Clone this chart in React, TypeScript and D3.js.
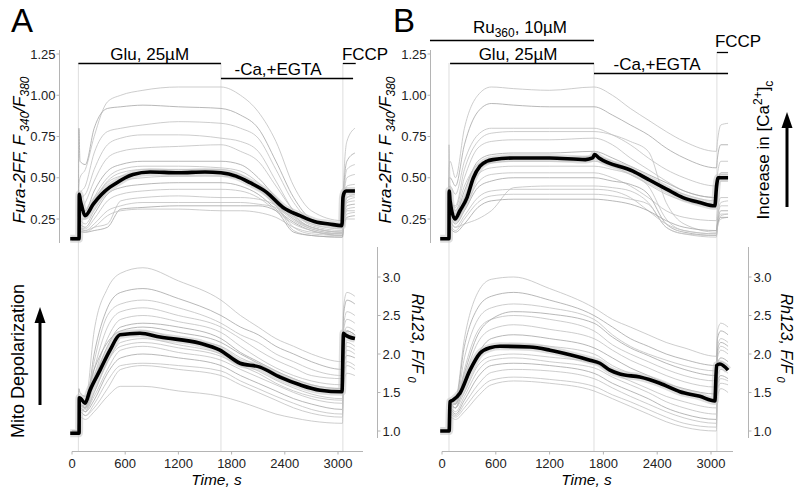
import React from "react";
import * as d3 from "d3";

const TIME_TICKS = [0, 600, 1200, 1800, 2400, 3000];
const FURA_TICKS = [0.25, 0.5, 0.75, 1.0, 1.25];
const RH_TICKS = [1.0, 1.5, 2.0, 2.5, 3.0];

// application times (s)
const EVENTS_A = [72, 1680, 3055];
const EVENTS_B = [78, 1695, 3066];

// treatment bars (label, start s, end s)
const BAR_LABELS_A = ["Glu, 25µM", "-Ca,+EGTA", "FCCP"];
const BAR_START_A = [72, 1680, 3055];
const BAR_END_A = [1680, 3170, 3200];
const BAR_LABELS_B = ["Ru360, 10µM", "Glu, 25µM", "-Ca,+EGTA", "FCCP"];
const BAR_START_B = [-134, 90, 1695, 3066];
const BAR_END_B = [1695, 1695, 3190, 3190];

// ---------- Panel A, Fura-2FF ----------
const GRID_A = [0, 70, 78, 90, 150, 250, 400, 550, 800, 1200, 1680, 1900, 2100, 2300, 2500, 2700, 3050, 3062, 3100, 3190];
const FURA_A_TRACES = [
  [0.14, 0.14, 0.45, 0.5, 0.55, 0.75, 0.96, 1.0, 1.03, 1.05, 1.05, 1.0, 0.9, 0.72, 0.45, 0.3, 0.24, 0.45, 0.72, 0.8],
  [0.13, 0.13, 0.8, 0.6, 0.58, 0.8, 0.92, 0.93, 0.94, 0.93, 0.92, 0.88, 0.8, 0.6, 0.38, 0.25, 0.2, 0.4, 0.6, 0.65],
  [0.13, 0.13, 0.35, 0.4, 0.45, 0.65, 0.78, 0.8, 0.82, 0.84, 0.83, 0.8, 0.74, 0.55, 0.35, 0.24, 0.2, 0.35, 0.55, 0.58],
  [0.14, 0.14, 0.4, 0.38, 0.4, 0.55, 0.7, 0.74, 0.76, 0.76, 0.74, 0.72, 0.66, 0.48, 0.3, 0.22, 0.19, 0.33, 0.5, 0.52],
  [0.12, 0.12, 0.3, 0.3, 0.35, 0.48, 0.62, 0.66, 0.68, 0.69, 0.7, 0.66, 0.6, 0.45, 0.3, 0.21, 0.18, 0.3, 0.45, 0.46],
  [0.13, 0.13, 0.35, 0.32, 0.3, 0.42, 0.54, 0.58, 0.6, 0.6, 0.6, 0.58, 0.5, 0.38, 0.27, 0.2, 0.17, 0.3, 0.42, 0.43],
  [0.13, 0.13, 0.3, 0.28, 0.27, 0.38, 0.5, 0.55, 0.57, 0.57, 0.56, 0.54, 0.47, 0.36, 0.26, 0.2, 0.17, 0.28, 0.38, 0.4],
  [0.12, 0.12, 0.28, 0.25, 0.25, 0.36, 0.48, 0.53, 0.55, 0.55, 0.55, 0.52, 0.45, 0.34, 0.25, 0.19, 0.16, 0.27, 0.36, 0.38],
  [0.13, 0.13, 0.3, 0.25, 0.22, 0.3, 0.42, 0.48, 0.5, 0.51, 0.51, 0.49, 0.43, 0.33, 0.24, 0.19, 0.16, 0.28, 0.35, 0.36],
  [0.13, 0.13, 0.25, 0.22, 0.2, 0.28, 0.4, 0.44, 0.46, 0.47, 0.47, 0.45, 0.4, 0.31, 0.23, 0.18, 0.15, 0.25, 0.33, 0.34],
  [0.13, 0.13, 0.22, 0.2, 0.19, 0.25, 0.36, 0.4, 0.42, 0.43, 0.43, 0.42, 0.38, 0.3, 0.22, 0.18, 0.15, 0.24, 0.31, 0.32],
  [0.13, 0.13, 0.22, 0.2, 0.18, 0.2, 0.22, 0.36, 0.38, 0.39, 0.38, 0.38, 0.37, 0.33, 0.2, 0.16, 0.15, 0.22, 0.3, 0.3],
  [0.13, 0.13, 0.2, 0.19, 0.18, 0.22, 0.3, 0.33, 0.35, 0.35, 0.35, 0.35, 0.34, 0.32, 0.18, 0.15, 0.14, 0.2, 0.28, 0.29],
  [0.12, 0.12, 0.2, 0.18, 0.17, 0.18, 0.2, 0.31, 0.32, 0.33, 0.33, 0.33, 0.33, 0.3, 0.17, 0.15, 0.14, 0.2, 0.26, 0.27],
  [0.13, 0.13, 0.18, 0.17, 0.17, 0.2, 0.27, 0.3, 0.31, 0.31, 0.3, 0.3, 0.29, 0.26, 0.2, 0.17, 0.16, 0.2, 0.25, 0.25],
  [0.13, 0.13, 0.34, 0.3, 0.27, 0.36, 0.47, 0.51, 0.53, 0.54, 0.54, 0.51, 0.44, 0.34, 0.25, 0.2, 0.17, 0.28, 0.38, 0.39],
];
const MEAN_FURA_A_T = [-20, 80, 82, 95, 109, 147, 240, 335, 420, 507, 600, 688, 880, 1200, 1500, 1680, 1850, 2007, 2199, 2380, 2571, 2763, 2900, 3045, 3056, 3070, 3090, 3191];
const MEAN_FURA_A = [0.13, 0.13, 0.40, 0.36, 0.33, 0.27, 0.34, 0.40, 0.44, 0.47, 0.50, 0.52, 0.535, 0.53, 0.535, 0.53, 0.51, 0.47, 0.41, 0.32, 0.27, 0.23, 0.22, 0.21, 0.38, 0.41, 0.42, 0.42];

// ---------- Panel A, Rh123 ----------
const RH_A_TRACES = [
  [1.0, 1.0, 1.25, 1.3, 1.35, 2.3, 2.85, 3.05, 3.12, 2.95, 2.7, 2.5, 2.35, 2.2, 2.1, 2.0, 1.9, 2.6, 2.8, 2.75],
  [1.0, 1.0, 1.3, 1.35, 1.3, 2.0, 2.6, 2.8, 2.85, 2.72, 2.5, 2.35, 2.25, 2.1, 2.0, 1.9, 1.8, 2.5, 2.7, 2.65],
  [1.0, 1.0, 1.2, 1.25, 1.3, 1.9, 2.5, 2.65, 2.7, 2.6, 2.4, 2.25, 2.15, 2.0, 1.9, 1.8, 1.72, 2.35, 2.55, 2.5],
  [1.0, 1.0, 1.3, 1.35, 1.3, 1.8, 2.35, 2.55, 2.6, 2.5, 2.35, 2.2, 2.05, 1.92, 1.82, 1.72, 1.68, 2.3, 2.45, 2.4],
  [1.0, 1.0, 1.25, 1.3, 1.25, 1.7, 2.2, 2.45, 2.5, 2.42, 2.28, 2.1, 1.95, 1.82, 1.72, 1.65, 1.6, 2.2, 2.35, 2.3],
  [1.0, 1.0, 1.3, 1.35, 1.3, 1.65, 2.1, 2.35, 2.4, 2.35, 2.2, 2.02, 1.9, 1.78, 1.68, 1.6, 1.55, 2.1, 2.3, 2.25],
  [0.98, 0.98, 1.35, 1.4, 1.35, 1.6, 2.0, 2.25, 2.3, 2.2, 2.1, 1.95, 1.85, 1.72, 1.62, 1.55, 1.5, 2.05, 2.25, 2.2],
  [1.0, 1.0, 1.3, 1.32, 1.3, 1.5, 1.9, 2.15, 2.2, 2.12, 2.0, 1.88, 1.78, 1.66, 1.56, 1.48, 1.42, 1.95, 2.15, 2.1],
  [1.0, 1.0, 1.3, 1.35, 1.28, 1.45, 1.8, 2.05, 2.1, 2.02, 1.92, 1.8, 1.7, 1.6, 1.5, 1.42, 1.36, 1.9, 2.05, 2.0],
  [1.0, 1.0, 1.25, 1.3, 1.25, 1.4, 1.75, 1.95, 2.0, 1.95, 1.85, 1.72, 1.62, 1.52, 1.42, 1.35, 1.28, 1.85, 1.98, 1.95],
  [1.0, 1.0, 1.2, 1.25, 1.2, 1.35, 1.65, 1.85, 1.88, 1.85, 1.78, 1.65, 1.55, 1.45, 1.36, 1.28, 1.22, 1.75, 1.9, 1.85],
  [1.0, 1.0, 1.22, 1.25, 1.2, 1.3, 1.55, 1.8, 1.85, 1.8, 1.72, 1.6, 1.5, 1.4, 1.3, 1.23, 1.18, 1.7, 1.85, 1.8],
  [1.0, 1.0, 1.15, 1.18, 1.15, 1.25, 1.45, 1.58, 1.58, 1.52, 1.45, 1.38, 1.3, 1.22, 1.17, 1.13, 1.1, 1.6, 1.75, 1.72],
  [1.0, 1.0, 1.55, 1.5, 1.45, 1.8, 2.15, 2.3, 2.35, 2.28, 2.15, 2.0, 1.88, 1.75, 1.65, 1.57, 1.52, 2.1, 2.3, 2.25],
  [1.0, 1.0, 1.3, 1.3, 1.25, 1.5, 1.9, 2.1, 2.15, 2.08, 1.97, 1.85, 1.75, 1.62, 1.52, 1.45, 1.4, 1.98, 2.1, 2.05],
];
const MEAN_RH_A_T = [-20, 80, 82, 100, 147, 203, 316, 429, 541, 767, 992, 1444, 1669, 1895, 2120, 2346, 2571, 2797, 3045, 3062, 3079, 3191];
const MEAN_RH_A = [0.97, 0.97, 1.43, 1.42, 1.36, 1.53, 1.79, 2.05, 2.25, 2.27, 2.22, 2.14, 2.05, 1.88, 1.83, 1.70, 1.60, 1.53, 1.51, 2.27, 2.25, 2.2];

// ---------- Panel B, Fura-2FF ----------
const GRID_B = [0, 70, 78, 90, 150, 250, 400, 550, 800, 1200, 1695, 1900, 2100, 2300, 2500, 2700, 3060, 3072, 3110, 3190];
const FURA_B_TRACES = [
  [0.13, 0.13, 0.55, 0.6, 0.5, 0.8, 1.0, 1.05, 1.04, 1.03, 1.05, 1.0, 0.92, 0.85, 0.78, 0.72, 0.66, 0.72, 0.82, 0.83],
  [0.13, 0.13, 0.5, 0.5, 0.45, 0.7, 0.9, 0.95, 0.94, 0.93, 0.93, 0.88, 0.82, 0.76, 0.68, 0.62, 0.56, 0.62, 0.7, 0.7],
  [0.13, 0.13, 0.45, 0.45, 0.4, 0.6, 0.76, 0.8, 0.8, 0.8, 0.8, 0.76, 0.7, 0.62, 0.55, 0.5, 0.45, 0.52, 0.6, 0.6],
  [0.13, 0.13, 0.4, 0.35, 0.33, 0.55, 0.72, 0.77, 0.78, 0.78, 0.78, 0.76, 0.72, 0.66, 0.35, 0.22, 0.17, 0.25, 0.35, 0.36],
  [0.13, 0.13, 0.42, 0.38, 0.32, 0.5, 0.68, 0.72, 0.73, 0.73, 0.74, 0.7, 0.62, 0.55, 0.48, 0.42, 0.38, 0.45, 0.52, 0.52],
  [0.13, 0.13, 0.45, 0.38, 0.28, 0.42, 0.6, 0.64, 0.65, 0.65, 0.66, 0.62, 0.57, 0.52, 0.47, 0.42, 0.38, 0.45, 0.53, 0.53],
  [0.13, 0.13, 0.38, 0.33, 0.26, 0.38, 0.55, 0.59, 0.6, 0.6, 0.6, 0.57, 0.52, 0.46, 0.4, 0.36, 0.33, 0.42, 0.48, 0.48],
  [0.13, 0.13, 0.4, 0.32, 0.25, 0.36, 0.52, 0.56, 0.57, 0.57, 0.57, 0.55, 0.52, 0.45, 0.25, 0.18, 0.16, 0.25, 0.33, 0.33],
  [0.13, 0.13, 0.35, 0.3, 0.24, 0.32, 0.47, 0.52, 0.53, 0.53, 0.53, 0.5, 0.45, 0.38, 0.3, 0.26, 0.24, 0.3, 0.38, 0.38],
  [0.13, 0.13, 0.32, 0.28, 0.22, 0.3, 0.44, 0.48, 0.5, 0.5, 0.5, 0.48, 0.46, 0.4, 0.22, 0.17, 0.15, 0.22, 0.3, 0.3],
  [0.13, 0.13, 0.3, 0.25, 0.2, 0.22, 0.25, 0.3, 0.44, 0.45, 0.45, 0.44, 0.42, 0.35, 0.2, 0.16, 0.15, 0.2, 0.27, 0.28],
  [0.13, 0.13, 0.28, 0.24, 0.2, 0.27, 0.38, 0.42, 0.43, 0.43, 0.43, 0.42, 0.38, 0.3, 0.22, 0.18, 0.16, 0.22, 0.28, 0.28],
  [0.13, 0.13, 0.25, 0.22, 0.18, 0.25, 0.35, 0.39, 0.4, 0.4, 0.4, 0.39, 0.37, 0.34, 0.2, 0.16, 0.14, 0.2, 0.25, 0.26],
  [0.13, 0.13, 0.22, 0.2, 0.17, 0.22, 0.32, 0.36, 0.37, 0.37, 0.37, 0.36, 0.34, 0.3, 0.24, 0.2, 0.18, 0.22, 0.26, 0.26],
  [0.13, 0.13, 0.7, 0.45, 0.3, 0.45, 0.58, 0.61, 0.62, 0.62, 0.63, 0.6, 0.55, 0.5, 0.44, 0.4, 0.36, 0.44, 0.5, 0.5],
];
const MEAN_FURA_B_T = [-20, 78, 80, 90, 145, 200, 279, 350, 424, 500, 569, 800, 1200, 1600, 1680, 1700, 1750, 2129, 2300, 2508, 2687, 2876, 3043, 3062, 3080, 3100, 3190];
const MEAN_FURA_B = [0.13, 0.13, 0.42, 0.36, 0.25, 0.3, 0.38, 0.5, 0.57, 0.6, 0.61, 0.62, 0.62, 0.61, 0.62, 0.64, 0.62, 0.54, 0.49, 0.43, 0.38, 0.35, 0.33, 0.45, 0.5, 0.5, 0.5];

// ---------- Panel B, Rh123 ----------
const RH_B_TRACES = [
  [1.0, 1.0, 1.3, 1.35, 1.4, 2.2, 2.8, 2.97, 3.0, 2.85, 2.6, 2.45, 2.35, 2.25, 2.15, 2.08, 1.97, 2.3, 2.4, 2.35],
  [1.0, 1.0, 1.35, 1.4, 1.4, 2.1, 2.6, 2.75, 2.8, 2.7, 2.5, 2.35, 2.2, 2.1, 2.0, 1.93, 1.85, 2.2, 2.3, 2.25],
  [1.0, 1.0, 1.3, 1.35, 1.35, 1.95, 2.45, 2.6, 2.65, 2.6, 2.45, 2.25, 2.1, 2.0, 1.92, 1.85, 1.78, 2.1, 2.2, 2.15],
  [1.0, 1.0, 1.3, 1.35, 1.3, 1.8, 2.3, 2.45, 2.5, 2.45, 2.3, 2.12, 2.0, 1.9, 1.8, 1.72, 1.65, 2.0, 2.1, 2.05],
  [1.0, 1.0, 1.35, 1.4, 1.35, 1.7, 2.15, 2.32, 2.38, 2.32, 2.2, 2.05, 1.92, 1.82, 1.72, 1.64, 1.57, 1.95, 2.05, 2.0],
  [1.0, 1.0, 1.3, 1.35, 1.3, 1.6, 2.0, 2.2, 2.25, 2.2, 2.08, 1.95, 1.82, 1.72, 1.62, 1.55, 1.48, 1.88, 1.95, 1.9],
  [1.0, 1.0, 1.38, 1.4, 1.38, 1.6, 1.95, 2.1, 2.13, 2.1, 2.0, 1.85, 1.75, 1.68, 1.58, 1.5, 1.42, 1.85, 1.9, 1.85],
  [1.0, 1.0, 1.3, 1.32, 1.3, 1.5, 1.85, 1.97, 2.0, 1.96, 1.88, 1.75, 1.65, 1.55, 1.45, 1.38, 1.3, 1.78, 1.85, 1.8],
  [1.0, 1.0, 1.25, 1.3, 1.25, 1.45, 1.78, 1.92, 1.95, 1.9, 1.82, 1.7, 1.6, 1.5, 1.38, 1.3, 1.22, 1.72, 1.8, 1.75],
  [1.0, 1.0, 1.25, 1.28, 1.22, 1.4, 1.7, 1.85, 1.88, 1.85, 1.75, 1.62, 1.52, 1.42, 1.3, 1.22, 1.15, 1.65, 1.72, 1.68],
  [1.0, 1.0, 1.2, 1.25, 1.2, 1.35, 1.6, 1.76, 1.8, 1.78, 1.68, 1.56, 1.45, 1.35, 1.25, 1.17, 1.1, 1.6, 1.68, 1.65],
  [1.0, 1.0, 1.2, 1.22, 1.18, 1.3, 1.52, 1.66, 1.7, 1.67, 1.58, 1.47, 1.38, 1.28, 1.18, 1.1, 1.05, 1.55, 1.62, 1.6],
  [1.0, 1.0, 1.15, 1.18, 1.15, 1.25, 1.45, 1.6, 1.65, 1.62, 1.52, 1.42, 1.32, 1.22, 1.12, 1.05, 1.0, 1.45, 1.55, 1.5],
  [1.0, 1.0, 1.3, 1.35, 1.35, 1.75, 2.25, 2.45, 2.55, 2.52, 2.4, 2.22, 2.08, 1.98, 1.88, 1.8, 1.72, 2.05, 2.15, 2.1],
];
const MEAN_RH_B_T = [-20, 80, 89, 120, 200, 312, 424, 535, 647, 981, 1204, 1427, 1650, 1761, 1873, 1984, 2207, 2430, 2653, 2876, 3043, 3062, 3099, 3190];
const MEAN_RH_B = [1.0, 1.0, 1.38, 1.4, 1.49, 1.79, 2.01, 2.08, 2.10, 2.09, 2.05, 1.99, 1.92, 1.88, 1.79, 1.74, 1.70, 1.62, 1.51, 1.45, 1.39, 1.85, 1.87, 1.79];

const FONT = "'Liberation Sans', Arial, Helvetica, sans-serif";
const AXIS = "#b4b4b4";

type Scale = d3.ScaleLinear<number, number>;

function traceLine(x: Scale, y: Scale, times: number[]) {
  return d3
    .line<number>()
    .x((_, i) => x(times[i]))
    .y((v) => y(v))
    .curve(d3.curveMonotoneX);
}

function Traces({ x, y, grid, traces, meanT, mean }: { x: Scale; y: Scale; grid: number[]; traces: number[][]; meanT: number[]; mean: number[] }) {
  const g = traceLine(x, y, grid);
  const m = traceLine(x, y, meanT);
  return (
    <g>
      {traces.map((tr, i) => (
        <path key={i} d={g(tr) || ""} fill="none" stroke={i % 4 === 1 ? "#a6a6a6" : "#c0c0c0"} strokeWidth={0.8} />
      ))}
      <path d={m(mean) || ""} fill="none" stroke="#c4c4c4" strokeWidth={8} strokeOpacity={0.55} strokeLinejoin="round" />
      <path d={m(mean) || ""} fill="none" stroke="#000" strokeWidth={3.6} strokeLinejoin="round" />
    </g>
  );
}

function LeftAxis({ ax, y }: { ax: number; y: Scale }) {
  return (
    <g>
      <line x1={ax} x2={ax} y1={50} y2={243} stroke={AXIS} />
      {FURA_TICKS.map((v) => (
        <g key={v}>
          <line x1={ax - 3} x2={ax} y1={y(v)} y2={y(v)} stroke={AXIS} />
          <text x={ax - 4} y={y(v)} dy="0.36em" textAnchor="end" fontSize={13} fill="#222">
            {d3.format(".2f")(v)}
          </text>
        </g>
      ))}
    </g>
  );
}

function RightAxis({ ax, y }: { ax: number; y: Scale }) {
  return (
    <g>
      <line x1={ax} x2={ax} y1={247} y2={438} stroke={AXIS} />
      {RH_TICKS.map((v) => (
        <g key={v}>
          <line x1={ax} x2={ax + 3} y1={y(v)} y2={y(v)} stroke={AXIS} />
          <text x={ax + 5} y={y(v)} dy="0.36em" textAnchor="start" fontSize={13} fill="#222">
            {d3.format(".1f")(v)}
          </text>
        </g>
      ))}
    </g>
  );
}

function BottomAxis({ x, xEnd }: { x: Scale; xEnd: number }) {
  const y0 = 451.5;
  return (
    <g>
      <line x1={x(0)} x2={xEnd} y1={y0} y2={y0} stroke={AXIS} />
      {TIME_TICKS.map((t) => (
        <g key={t}>
          <line x1={x(t)} x2={x(t)} y1={y0} y2={y0 + 3} stroke={AXIS} />
          <text x={x(t)} y={468} textAnchor="middle" fontSize={13} fill="#222">
            {t}
          </text>
        </g>
      ))}
      <text x={(x(0) + xEnd) / 2 - 1} y={485} textAnchor="middle" fontSize={15.5} fontStyle="italic">
        Time, s
      </text>
    </g>
  );
}

function Arrow({ x, yTip, yBase }: { x: number; yTip: number; yBase: number }) {
  return (
    <g>
      <line x1={x} x2={x} y1={yBase} y2={yTip + 12} stroke="#000" strokeWidth={3} />
      <path d={`M${x - 5.5},${yTip + 16} L${x},${yTip} L${x + 5.5},${yTip + 16} Z`} fill="#000" />
    </g>
  );
}

export default function App() {
  const xA = d3.scaleLinear().domain([0, 3000]).range([72, 338]);
  const xB = d3.scaleLinear().domain([0, 3000]).range([442, 711]);
  const yTop = d3.scaleLinear().domain([0.25, 1.25]).range([219, 54]);
  const yBot = d3.scaleLinear().domain([1, 3]).range([431, 277]);

  const barYA = [63.5, 78.5, 63.5];
  const barTextYA = [60, 75, 60];
  const barYB = [40.5, 63.5, 73.5, 52.5];
  const barTextYB = [33, 60, 70, 47];
  const eventTopA = [63, 63, 63];
  const eventTopB = [63, 63, 52];

  return (
    <svg width={800} height={497} style={{ position: "absolute", left: 0, top: 0, background: "#fff" }} fontFamily={FONT}>
      <rect width={800} height={497} fill="#fff" />

      {/* event lines */}
      {EVENTS_A.map((t, i) => (
        <line key={"ea" + i} x1={xA(t)} x2={xA(t)} y1={eventTopA[i]} y2={451} stroke="#dedede" strokeWidth={1} />
      ))}
      {EVENTS_B.map((t, i) => (
        <line key={"eb" + i} x1={xB(t)} x2={xB(t)} y1={eventTopB[i]} y2={451} stroke="#dedede" strokeWidth={1} />
      ))}

      {/* panel labels */}
      <text x={11} y={32} fontSize={33}>A</text>
      <text x={393} y={32} fontSize={33}>B</text>

      {/* bars A */}
      {BAR_LABELS_A.map((lab, i) => {
        const x1 = xA(BAR_START_A[i]);
        const x2 = xA(BAR_END_A[i]);
        const isF = lab === "FCCP";
        return (
          <g key={"ba" + i}>
            <line x1={x1} x2={x2} y1={barYA[i]} y2={barYA[i]} stroke="#000" strokeWidth={1.3} />
            <text x={isF ? x1 - 1 : (x1 + x2) / 2 - (i === 1 ? 9 : 0)} y={barTextYA[i]} fontSize={17} textAnchor={isF ? "start" : "middle"}>
              {lab}
            </text>
          </g>
        );
      })}

      {/* bars B */}
      {BAR_LABELS_B.map((lab, i) => {
        const x1 = xB(BAR_START_B[i]);
        const x2 = xB(BAR_END_B[i]);
        const isF = lab === "FCCP";
        const isRu = i === 0;
        const tx = isF ? x1 - 2 : isRu ? (x1 + x2) / 2 + 8 : (x1 + x2) / 2 - 4;
        return (
          <g key={"bb" + i}>
            <line x1={x1} x2={x2} y1={barYB[i]} y2={barYB[i]} stroke="#000" strokeWidth={1.3} />
            {isRu ? (
              <text x={tx} y={barTextYB[i]} fontSize={17} textAnchor="middle">
                Ru<tspan fontSize={12} dy={4}>360</tspan>
                <tspan dy={-4}>, 10µM</tspan>
              </text>
            ) : (
              <text x={tx} y={barTextYB[i]} fontSize={17} textAnchor={isF ? "start" : "middle"}>
                {lab}
              </text>
            )}
          </g>
        );
      })}

      {/* axes */}
      <LeftAxis ax={59.5} y={yTop} />
      <LeftAxis ax={430.5} y={yTop} />
      <RightAxis ax={377.5} y={yBot} />
      <RightAxis ax={748.5} y={yBot} />
      <BottomAxis x={xA} xEnd={363} />
      <BottomAxis x={xB} xEnd={733} />

      {/* traces */}
      <Traces x={xA} y={yTop} grid={GRID_A} traces={FURA_A_TRACES} meanT={MEAN_FURA_A_T} mean={MEAN_FURA_A} />
      <Traces x={xA} y={yBot} grid={GRID_A} traces={RH_A_TRACES} meanT={MEAN_RH_A_T} mean={MEAN_RH_A} />
      <Traces x={xB} y={yTop} grid={GRID_B} traces={FURA_B_TRACES} meanT={MEAN_FURA_B_T} mean={MEAN_FURA_B} />
      <Traces x={xB} y={yBot} grid={GRID_B} traces={RH_B_TRACES} meanT={MEAN_RH_B_T} mean={MEAN_RH_B} />

      {/* y-axis titles */}
      {[25, 391].map((bx) => (
        <text key={"fl" + bx} transform={`translate(${bx},150) rotate(-90)`} textAnchor="middle" fontSize={17} fontStyle="italic">
          Fura-2FF, F<tspan fontSize={12} dy={4}> 340</tspan>
          <tspan dy={-4}>/F</tspan>
          <tspan fontSize={12} dy={4}>380</tspan>
        </text>
      ))}
      {[412, 781].map((bx) => (
        <text key={"rl" + bx} transform={`translate(${bx},338) rotate(90)`} textAnchor="middle" fontSize={16} fontStyle="italic">
          Rh123, F/F<tspan fontSize={11} dy={4}> 0</tspan>
        </text>
      ))}
      <text transform="translate(24,361) rotate(-90)" textAnchor="middle" fontSize={18}>
        Mito Depolarization
      </text>
      <text transform="translate(769,150) rotate(-90)" textAnchor="middle" fontSize={17}>
        Increase in [Ca<tspan fontSize={12} dy={-7}>2+</tspan>
        <tspan dy={7}>]</tspan>
        <tspan fontSize={12} dy={4}>c</tspan>
      </text>

      <Arrow x={40} yTip={307} yBase={405} />
      <Arrow x={787} yTip={112} yBase={207} />
    </svg>
  );
}
